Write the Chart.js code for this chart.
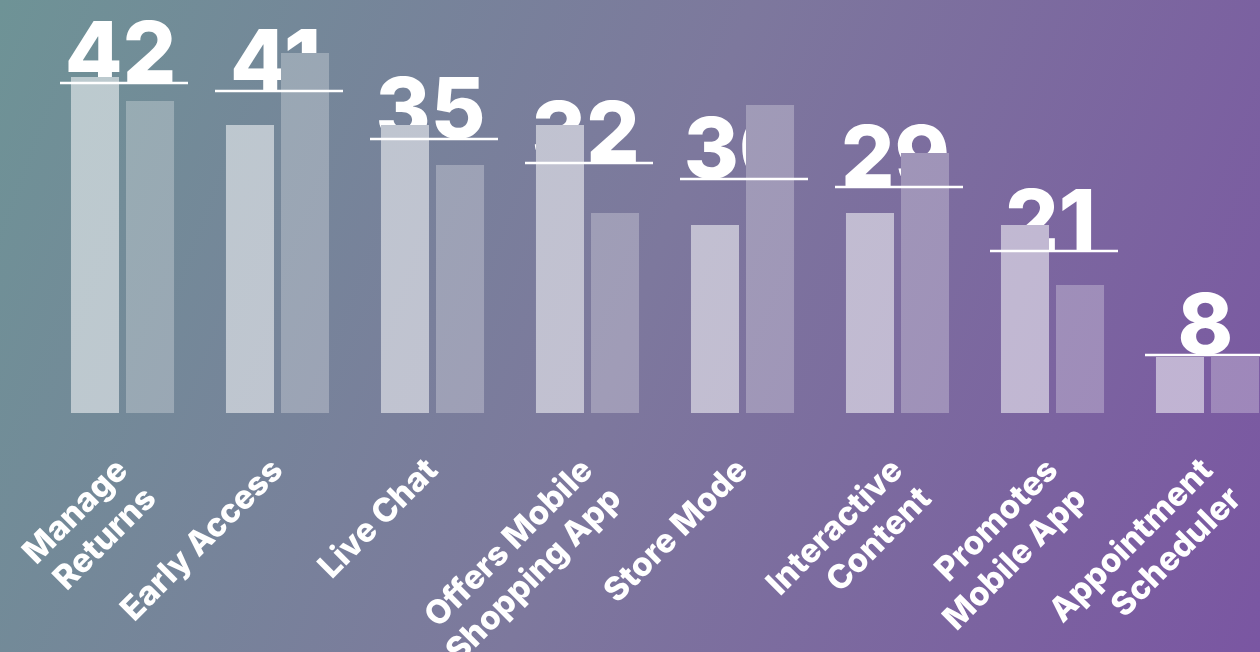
<!DOCTYPE html>
<html>
<head>
<meta charset="utf-8">
<script src="https://cdn.jsdelivr.net/npm/chart.js@4.4.0/dist/chart.umd.min.js"></script>
<style>
  html, body { margin: 0; padding: 0; background: #7a7aa0; }
  #wrap { width: 1260px; height: 652px; overflow: hidden; position: relative; }
  #chart { display: block; }
</style>
</head>
<body>
<div id="wrap"><canvas id="chart" width="1290" height="652"></canvas></div>
<script>
// data
const categories = [
    ['Manage', 'Returns'],
    ['Early Access'],
    ['Live Chat'],
    ['Offers Mobile', 'Shopping App'],
    ['Store Mode'],
    ['Interactive', 'Content'],
    ['Promotes', 'Mobile App'],
    ['Appointment', 'Scheduler']
];
const seriesA = [42, 36, 36, 36, 23.5, 25, 23.5, 7];
const seriesB = [39, 45, 31, 25, 38.5, 32.5, 16, 7];
const scores = [42, 41, 35, 32, 30, 29, 21, 8];

// background gradient stops (rgb)
const bgStops = [[0, [110, 147, 150]], [0.5, [125, 120, 157]], [1, [122, 86, 162]]];

const canvas = document.getElementById('chart');
const ctx = canvas.getContext('2d');

function makeGradient(whiteMix) {
    const g = ctx.createLinearGradient(-29, 77, 1289, 575);
    bgStops.forEach(([pos, c]) => {
        const m = c.map(v => Math.round(v + (255 - v) * whiteMix));
        g.addColorStop(pos, `rgb(${m[0]}, ${m[1]}, ${m[2]})`);
    });
    return g;
}

const bgGradient = makeGradient(0);
const barGradientA = makeGradient(0.53);
const barGradientB = makeGradient(0.27);

const backgroundPlugin = {
    id: 'bg',
    beforeDraw(chart) {
        const c = chart.ctx;
        c.save();
        c.fillStyle = bgGradient;
        c.fillRect(0, 0, chart.width, chart.height);
        c.restore();
    }
};

// big numbers sit behind the bars, their underline in front
const scorePlugin = {
    id: 'scores',
    beforeDatasetsDraw(chart) {
        const c = chart.ctx;
        const x = chart.scales.x, y = chart.scales.yScore;
        c.save();
        c.fillStyle = '#ffffff';
        c.font = '800 84px Inter';
        c.textAlign = 'center';
        c.textBaseline = 'alphabetic';
        scores.forEach((v, i) => {
            c.fillText(String(v), x.getPixelForValue(i) - 2, y.getPixelForValue(v) - 1);
        });
        c.restore();
    },
    afterDatasetsDraw(chart) {
        const c = chart.ctx;
        const x = chart.scales.x, y = chart.scales.yScore;
        c.save();
        c.strokeStyle = '#ffffff';
        c.lineWidth = 2.5;
        scores.forEach((v, i) => {
            const cx = x.getPixelForValue(i) + 1.5;
            const py = y.getPixelForValue(v);
            c.beginPath();
            c.moveTo(cx - 64, py);
            c.lineTo(cx + 64, py);
            c.stroke();
        });
        c.restore();
    }
};

new Chart(ctx, {
    type: 'bar',
    data: {
        labels: categories,
        datasets: [{
            label: 'A',
            data: seriesA,
            backgroundColor: barGradientA,
            categoryPercentage: 0.71,
            barPercentage: 0.873
        }, {
            label: 'B',
            data: seriesB,
            backgroundColor: barGradientB,
            categoryPercentage: 0.71,
            barPercentage: 0.873
        }]
    },
    options: {
        responsive: false,
        animation: false,
        layout: { padding: { top: 13, left: 45, right: 5, bottom: 0 } },
        plugins: {
            legend: { display: false },
            tooltip: { enabled: false }
        },
        scales: {
            x: {
                grid: { display: false, drawTicks: false },
                border: { display: false },
                ticks: {
                    color: '#ffffff',
                    font: { family: 'Inter', size: 33, weight: '800', lineHeight: '40px' },
                    maxRotation: 45,
                    minRotation: 45,
                    autoSkip: false,
                    padding: 38
                },
                afterFit(axis) {
                    axis.height = 239;
                    axis.paddingLeft = 0;
                    axis.paddingRight = 0;
                }
            },
            y: { display: false, min: 0, max: 50 },
            yScore: { display: false, min: 0.75, max: 50.75 }
        }
    },
    plugins: [backgroundPlugin, scorePlugin]
});
</script>
</body>
</html>
